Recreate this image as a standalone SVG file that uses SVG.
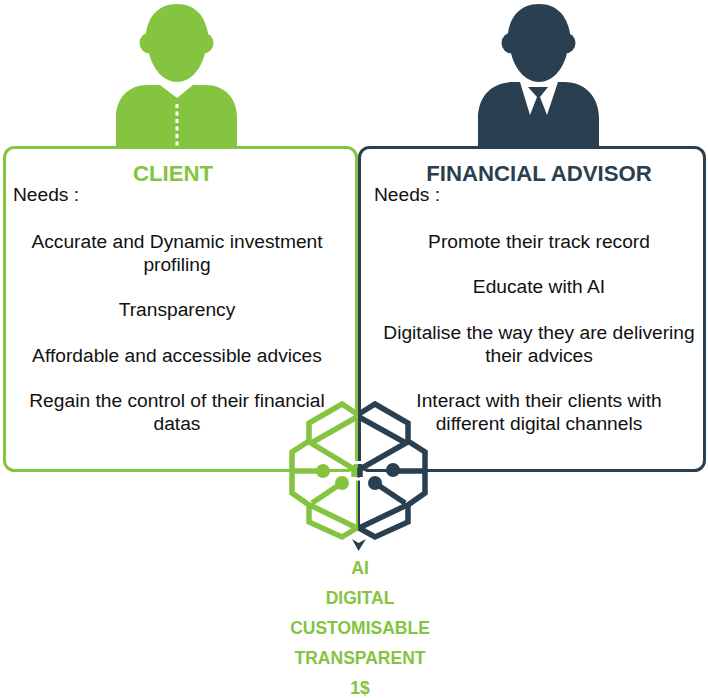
<svg xmlns="http://www.w3.org/2000/svg" width="708" height="698" viewBox="0 0 708 698">
<style>
text{font-family:"Liberation Sans",Arial,sans-serif;font-size:19.2px;fill:#111;text-anchor:middle}
.g{fill:#84c441}.d{fill:#2a3f4f}
.gs{fill:none;stroke:#84c441;stroke-width:5.500;stroke-linejoin:miter}
.ds{fill:none;stroke:#2a3f4f;stroke-width:5.500;stroke-linejoin:miter}
.h{font-size:22.200px;font-weight:bold}
.b{font-weight:bold;fill:#84c441;font-size:17.500px}
.l{text-anchor:start}
</style>
<rect width="708" height="698" fill="#fff"/>
<g id="client-icon">
<path class="g" d="M177 4C158 4 148 17 146 33L149 53C153 70 164 82 177 82C190 82 201 70 205 53L208 33C205 17 196 4 177 4Z"/>
<circle class="g" cx="150" cy="43" r="10.500"/><circle class="g" cx="203" cy="43" r="10.500"/>
<path class="g" d="M116 146V118C116 98 128 85 148 85H160L177 98L193 85H205C225 85 237 98 237 118V146Z"/>
<path d="M177 104V147" stroke="#fff" stroke-width="3" stroke-dasharray="4 3.500" fill="none"/>
</g>
<g id="advisor-icon">
<path class="d" d="M539 4C520 4 510 17 508 33L511 53C515 70 526 82 539 82C552 82 563 70 567 53L570 33C567 17 558 4 539 4Z"/>
<circle class="d" cx="512" cy="43" r="10.500"/><circle class="d" cx="565" cy="43" r="10.500"/>
<path class="d" d="M478 146V118C478 98 490 82 514 82H520L530 115L537 97L528 87H548L540 97L547 115L558 82H564C586 82 599 98 599 118V146Z"/>
</g>
<g id="client">
<rect x="4.500" y="147.500" width="352" height="323" rx="10" fill="none" stroke="#84c441" stroke-width="3"/>
<text x="173" y="181" class="h" style="fill:#84c441">CLIENT</text>
<text x="13" y="201" class="l">Needs :</text>
<text x="177" y="248">Accurate and Dynamic investment</text>
<text x="177" y="271">profiling</text>
<text x="177" y="316">Transparency</text>
<text x="177" y="362">Affordable and accessible advices</text>
<text x="177" y="407">Regain the control of their financial</text>
<text x="177" y="430">datas</text>
</g>
<g id="advisor">
<rect x="359.500" y="147.500" width="345" height="323" rx="10" fill="none" stroke="#2a3f4f" stroke-width="3"/>
<text x="539" y="181" class="h" style="fill:#2a3f4f">FINANCIAL ADVISOR</text>
<text x="374" y="201" class="l">Needs :</text>
<text x="539" y="248">Promote their track record</text>
<text x="539" y="293">Educate with AI</text>
<text x="539" y="339">Digitalise the way they are delivering</text>
<text x="539" y="362">their advices</text>
<text x="539" y="407">Interact with their clients with</text>
<text x="539" y="430">different digital channels</text>
</g>
<g id="ai-brain">
<path d="M357.500 400V530" stroke="#84c441" stroke-width="3" fill="none"/>
<path class="gs" d="M357 414L342 404L309 423V441L292 452V493L309 505V522L342 537L357 528"/>
<path class="gs" d="M357 417L311 443L354 469V477M310 505L357 528M312 503L342 483M293 471H323"/>
<circle class="g" cx="323" cy="471" r="7"/>
<circle class="g" cx="342" cy="483" r="7"/>
<path d="M359 400V530" stroke="#2a3f4f" stroke-width="2" fill="none"/>
<path class="ds" d="M359 414L375 404L408 423V441L425 452V493L408 505V522L375 537L359 528"/>
<path class="ds" d="M359 417L406 443L360 469V477M407 505L359 528M405 503L375 483M425 471H393"/>
<circle class="d" cx="393" cy="470" r="7"/>
<circle class="d" cx="375" cy="483" r="7"/>
<path d="M351 462.500H364M351 479H364" stroke="#fff" stroke-width="3"/>
<path class="d" d="M352 539L358.500 543L366 539L358.500 551Z"/>
</g>
<g id="benefits">
<text x="360" y="574" class="b">AI</text>
<text x="360" y="604" class="b">DIGITAL</text>
<text x="360" y="634" class="b">CUSTOMISABLE</text>
<text x="360" y="664" class="b">TRANSPARENT</text>
<text x="360" y="694" class="b">1$</text>
</g>
</svg>
